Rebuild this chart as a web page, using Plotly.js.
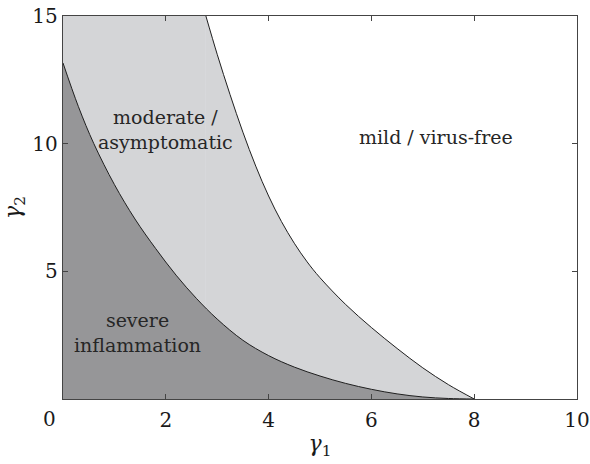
<!DOCTYPE html>
<html>
<head>
<meta charset="utf-8">
<script src="https://cdn.plot.ly/plotly-3.0.1.min.js"></script>
<style>html,body{margin:0;padding:0;background:#fff;}#chart{width:590px;height:464px;}</style>
</head>
<body>
<div id="chart"></div>
<script>
// Boundary between "severe inflammation" and "moderate / asymptomatic"
const lowerX = [0, 0.3, 0.6, 1.0, 1.4, 1.8, 2.2, 2.6, 3.0, 3.5, 4.0, 4.5, 5.0, 5.5, 6.0, 6.5, 7.0, 7.5, 8.0];
const lowerY = [13.16, 11.45, 10.0, 8.4, 7.05, 5.9, 4.85, 3.93, 3.13, 2.3, 1.7, 1.25, 0.9, 0.61, 0.38, 0.2, 0.08, 0.02, 0];
// Boundary between "moderate / asymptomatic" and "mild / virus-free"
const upperX = [2.78, 3.0, 3.25, 3.5, 3.75, 4.0, 4.25, 4.5, 4.75, 5.0, 5.5, 6.0, 6.5, 7.0, 7.5, 8.0];
const upperY = [15, 13.5, 11.92, 10.45, 9.12, 7.95, 6.95, 6.1, 5.37, 4.75, 3.7, 2.8, 1.98, 1.22, 0.56, 0];
const xTicks = [2, 4, 6, 8, 10];
const yTicks = [5, 10, 15];
const xRange = [0, 10];
const yRange = [0, 15];
const regionLabels = ["moderate /<br>asymptomatic", "severe<br>inflammation", "mild / virus-free"];
const labelX = [1.99, 1.44, 7.26];
const labelY = [10.54, 2.62, 10.26];

const FONT = "DejaVu Serif";
const lineCol = "#1f1f1f";
const lightFill = "#d4d5d7";
const darkFill = "#969698";

const traces = [
  { // light region under the upper boundary
    x: upperX, y: upperY, mode: "lines",
    line: {width: 1, color: lineCol, shape: "spline", smoothing: 1},
    fill: "tozeroy", fillcolor: lightFill, showlegend: false
  },
  { // dark region under the lower boundary
    x: lowerX, y: lowerY, mode: "lines",
    line: {width: 1, color: lineCol, shape: "spline", smoothing: 1},
    fill: "tozeroy", fillcolor: darkFill, showlegend: false
  }
];

// light region left of where the upper boundary leaves the top of the frame
const shapes = [{
  type: "rect", xref: "x", yref: "y", layer: "below",
  x0: xRange[0], x1: upperX[0], y0: yRange[0], y1: yRange[1],
  fillcolor: lightFill, line: {width: 0}
}];

const annotations = regionLabels.map((t, i) => ({
  x: labelX[i], y: labelY[i], xref: "x", yref: "y", text: t, showarrow: false,
  font: {family: FONT, size: 19, color: "#262626"}, align: "center"
}));
annotations.push({
  x: -14 / 514, y: 0, xref: "paper", yref: "paper", xanchor: "center", yanchor: "middle",
  yshift: -20, text: "0", showarrow: false,
  font: {family: FONT, size: 20, color: "#1a1a1a"}
});

const axisCommon = {
  showgrid: false, zeroline: false, showline: true, linecolor: "#444", linewidth: 1.2,
  mirror: "ticks", ticks: "inside", ticklen: 5, tickcolor: "#444", tickwidth: 1,
  tickfont: {family: FONT, size: 20, color: "#1a1a1a"}
};

const layout = {
  width: 590, height: 464,
  margin: {l: 63, r: 13, t: 16, b: 65},
  paper_bgcolor: "#fff", plot_bgcolor: "#fff",
  font: {family: FONT},
  xaxis: Object.assign({}, axisCommon, {
    range: xRange, tickvals: xTicks, ticktext: xTicks.map(String),
    ticklabelstandoff: 3,
    title: {text: "<i>γ</i><sub>1</sub>", font: {family: FONT, size: 22, color: "#1a1a1a"}, standoff: 4}
  }),
  yaxis: Object.assign({}, axisCommon, {
    range: yRange, tickvals: yTicks, ticktext: yTicks.map(String),
    title: {text: "<i>γ</i><sub>2</sub>", font: {family: FONT, size: 22, color: "#1a1a1a"}, standoff: 10}
  }),
  shapes: shapes,
  annotations: annotations,
  showlegend: false
};

Plotly.newPlot("chart", traces, layout, {displayModeBar: false, staticPlot: true});
</script>
</body>
</html>
